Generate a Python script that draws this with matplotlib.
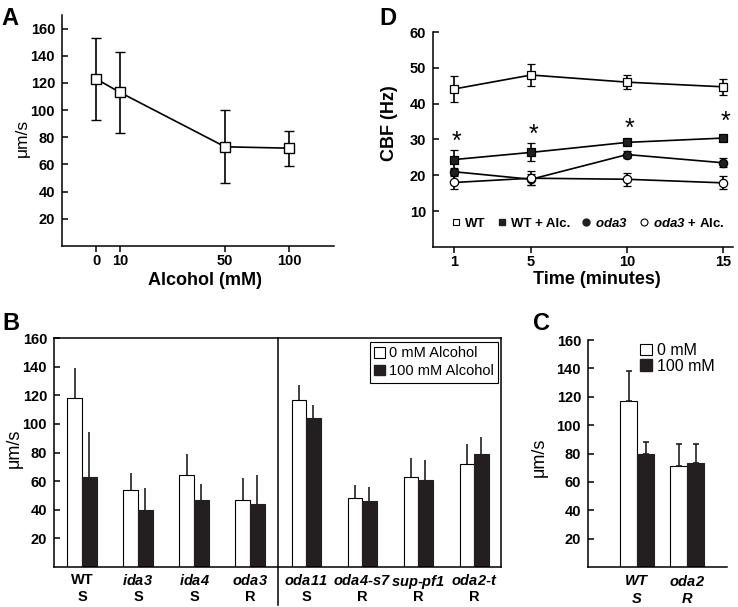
# Four-panel figure: swimming speed vs alcohol (A), CBF over time (D),
# speed of mutant strains (B) and of WT / oda2 (C).

import numpy as np
import matplotlib
matplotlib.use("Agg")
from matplotlib import pyplot as plt
from matplotlib.lines import Line2D
from matplotlib.patches import Patch

plt.rcParams['font.family'] = ['Liberation Sans', 'DejaVu Sans']
plt.rcParams['font.weight'] = 'bold'
# math text is only used for the italic gene names, digits included
plt.rcParams['mathtext.fontset'] = 'custom'
plt.rcParams['mathtext.it'] = 'Liberation Sans:italic:bold'
plt.rcParams['mathtext.rm'] = 'Liberation Sans:italic:bold'
plt.rcParams['mathtext.default'] = 'rm'
plt.rcParams['axes.linewidth'] = 1.1

# Panel A data
conc = [0, 10, 50, 100]
speed_a = [123, 113, 73, 72]
err_a = [30, 30, 27, 13]

# Panel D data
time_min = [1, 5, 10, 15]
cbf_wt = [44.1, 48.0, 46.0, 44.7]
cbf_wt_err = [3.5, 3.1, 2.0, 2.3]
cbf_wt_alc = [24.4, 26.4, 29.2, 30.4]
cbf_wt_alc_err = [2.6, 2.5, 0.6, 0.5]
cbf_oda3 = [21.0, 18.9, 25.8, 23.5]
cbf_oda3_err = [1.0, 1.5, 1.1, 1.3]
cbf_oda3_alc = [18.0, 19.2, 18.9, 17.9]
cbf_oda3_alc_err = [1.9, 1.9, 1.8, 1.8]
star_y = [29.3, 31.3, 32.9, 34.8]

# Panel B data
strains_b = ['WT', 'ida3', 'ida4', 'oda3', 'oda11', 'oda4-s7', 'sup-pf1', 'oda2-t']
class_b = ['S', 'S', 'S', 'R', 'S', 'R', 'R', 'R']
speed_0mm_b = [118, 54, 64, 47, 117, 48, 63, 72]
err_0mm_b = [21, 12, 15, 15, 10, 9, 13, 14]
speed_100mm_b = [63, 40, 47, 44, 104, 46, 61, 79]
err_100mm_b = [31, 15, 11, 20, 9, 10, 14, 12]

# Panel C data
strains_c = ['WT', 'oda2']
class_c = ['S', 'R']
speed_0mm_c = [117, 71]
err_0mm_c = [21, 16]
speed_100mm_c = [80, 73]
err_100mm_c = [8, 14]

dark = '#231f20'


def ital(name):
    """Italic (bold) gene name, keeping hyphens as plain text."""
    return '-'.join(r'$%s$' % p for p in name.split('-'))


fig = plt.figure(figsize=(7.38, 6.07), dpi=100)
W, H = 738., 607.


def add_ax(left, top, right, bottom):
    return fig.add_axes([left/W, 1 - bottom/H, (right - left)/W, (bottom - top)/H])


# ---------------- Panel A ----------------
ax_a = add_ax(62, 15, 334, 246)
# the concentration axis is stretched unevenly in the original
knots_c = [-20, 0, 10, 50, 100, 160]
knots_p = [-48, 0, 24, 129, 193, 270]
ax_a.set_xscale('function', functions=(lambda x: np.interp(x, knots_c, knots_p),
                                       lambda p: np.interp(p, knots_p, knots_c)))
ax_a.errorbar(conc, speed_a, yerr=err_a, color='k', lw=1.2, capsize=3.5,
              capthick=1.2, marker='s', ms=7, mfc='white', mec='k', mew=1.0)
ax_a.set_xlim(-14.2, 135)
ax_a.set_ylim(0, 170)
ax_a.set_xticks(conc)
ax_a.set_yticks(range(20, 161, 20))
ax_a.spines[['top', 'right']].set_visible(False)
ax_a.tick_params(axis='y', direction='in', length=4, width=1.1, labelsize=10.5, pad=5)
ax_a.tick_params(axis='x', direction='out', length=4, width=1.1, labelsize=10.5, pad=2)
ax_a.set_xlabel('Alcohol (mM)', fontsize=13, fontweight='bold')
ax_a.xaxis.set_label_coords(0.526, -0.112)
ax_a.set_ylabel('\u03bcm/s', fontsize=12.5, fontweight='normal')
ax_a.yaxis.set_label_coords(-0.118, 0.468)

# ---------------- Panel D ----------------
ax_d = add_ax(433, 32, 733, 247)
series = [(cbf_wt, cbf_wt_err, 's', 'white'),
          (cbf_wt_alc, cbf_wt_alc_err, 's', dark),
          (cbf_oda3, cbf_oda3_err, 'o', dark),
          (cbf_oda3_alc, cbf_oda3_alc_err, 'o', 'white')]
for vals, errs, mk, fc in series:
    ax_d.errorbar(time_min, vals, yerr=errs, color='k', lw=1.2, capsize=3,
                  capthick=1.0, marker=mk, ms=6, mfc=fc, mec='k', mew=0.9)
for t, y in zip(time_min, star_y):
    ax_d.text(t + 0.1, y, '*', ha='center', va='center', fontsize=18,
              fontweight='normal')
ax_d.set_xlim(-0.1, 15.5)
ax_d.set_ylim(0, 60)
ax_d.set_xticks(time_min)
ax_d.set_yticks(range(10, 61, 10))
ax_d.spines[['top', 'right']].set_visible(False)
ax_d.tick_params(axis='y', direction='in', length=4, width=1.1, labelsize=10.5, pad=5)
ax_d.tick_params(axis='x', direction='out', length=4, width=1.1, labelsize=10.5, pad=2)
ax_d.set_xlabel('Time (minutes)', fontsize=13, fontweight='bold')
ax_d.xaxis.set_label_coords(0.547, -0.112)
ax_d.set_ylabel('CBF (Hz)', fontsize=13, fontweight='bold')
ax_d.yaxis.set_label_coords(-0.115, 0.577)
handles_d = [Line2D([], [], ls='none', marker='s', ms=5, mfc='white', mec='k', mew=0.8),
             Line2D([], [], ls='none', marker='s', ms=5, mfc=dark, mec=dark),
             Line2D([], [], ls='none', marker='o', ms=5, mfc=dark, mec=dark),
             Line2D([], [], ls='none', marker='o', ms=5, mfc='white', mec='k', mew=0.8)]
labels_d = ['WT', 'WT + Alc.', ital('oda3'), ital('oda3') + ' + Alc.']
ax_d.legend(handles_d, labels_d, ncol=4, loc='center', bbox_to_anchor=(0.517, 0.11),
            frameon=False, handlelength=0.7, handletextpad=0.3, columnspacing=0.9,
            prop={'size': 9.5, 'weight': 'bold'})

# ---------------- Panel B ----------------
ax_b = add_ax(54, 338, 501, 567)
xb = np.arange(len(strains_b))
wb = 0.26
ax_b.bar(xb - wb/2, speed_0mm_b, wb, color='white', edgecolor='k', lw=0.8)
ax_b.bar(xb + wb/2, speed_100mm_b, wb, color=dark, edgecolor=dark, lw=0.8)
ax_b.errorbar(xb - wb/2, speed_0mm_b, yerr=[np.zeros(len(xb)), err_0mm_b],
              fmt='none', ecolor=dark, elinewidth=1.2, capsize=0)
ax_b.errorbar(xb + wb/2, speed_100mm_b, yerr=[np.zeros(len(xb)), err_100mm_b],
              fmt='none', ecolor=dark, elinewidth=1.2, capsize=0)
ax_b.plot([3.5, 3.5], [-0.166, 1], color='k', lw=1.1,
          transform=ax_b.get_xaxis_transform(), clip_on=False)
ax_b.set_xlim(-0.5, 7.48)
ax_b.set_ylim(0, 160)
ax_b.set_yticks(range(20, 161, 20))
ax_b.set_xticks(xb)
ax_b.set_xticklabels([s if s == 'WT' else ital(s) for s in strains_b])
for x, c in zip(xb, class_b):
    ax_b.text(x, -0.131, c, ha='center', va='center', fontsize=10.5,
              transform=ax_b.get_xaxis_transform())
ax_b.tick_params(axis='y', direction='in', length=4, width=1.1, labelsize=10.5, pad=5)
ax_b.tick_params(axis='x', length=0, labelsize=10.5, pad=4)
ax_b.set_ylabel('\u03bcm/s', fontsize=13, fontweight='normal')
ax_b.yaxis.set_label_coords(-0.069, 0.52)
handles_b = [Patch(facecolor='white', edgecolor='k', lw=0.8),
             Patch(facecolor=dark, edgecolor=dark)]
leg_b = ax_b.legend(handles_b, ['0 mM Alcohol', '100 mM Alcohol'], loc='upper right',
                    bbox_to_anchor=(0.993, 0.982), fancybox=False, framealpha=1,
                    edgecolor='k', handlelength=0.75, handleheight=0.75,
                    handletextpad=0.25, labelspacing=0.25, borderpad=0.3,
                    borderaxespad=0, prop={'size': 10.5, 'weight': 'normal'})
leg_b.get_frame().set_linewidth(0.8)

# ---------------- Panel C ----------------
ax_c = add_ax(588, 340, 727, 567)
xc = np.arange(len(strains_c))
wc = 0.34
ax_c.bar(xc - wc/2, speed_0mm_c, wc, color='white', edgecolor='k', lw=0.8)
ax_c.bar(xc + wc/2, speed_100mm_c, wc, color=dark, edgecolor=dark, lw=0.8)
ax_c.errorbar(xc - wc/2, speed_0mm_c, yerr=[np.zeros(len(xc)), err_0mm_c],
              fmt='none', ecolor=dark, elinewidth=1.2, capsize=2.5, capthick=1.2)
ax_c.errorbar(xc + wc/2, speed_100mm_c, yerr=[np.zeros(len(xc)), err_100mm_c],
              fmt='none', ecolor=dark, elinewidth=1.2, capsize=2.5, capthick=1.2)
ax_c.set_xlim(-0.98, 1.8)
ax_c.set_ylim(0, 160)
ax_c.set_yticks(range(20, 161, 20))
ax_c.set_xticks(xc)
ax_c.set_xticklabels([ital(s) for s in strains_c])
for x, c in zip(xc, class_c):
    ax_c.text(x, -0.142, ital(c), ha='center', va='center', fontsize=10.5,
              transform=ax_c.get_xaxis_transform())
ax_c.spines[['top', 'right']].set_visible(False)
ax_c.tick_params(axis='y', direction='in', length=4, width=1.1, labelsize=10.5, pad=5)
ax_c.tick_params(axis='x', length=0, labelsize=10.5, pad=5)
ax_c.set_ylabel('\u03bcm/s', fontsize=13, fontweight='normal')
ax_c.yaxis.set_label_coords(-0.29, 0.485)
handles_c = [Patch(facecolor='white', edgecolor='k', lw=0.8),
             Patch(facecolor=dark, edgecolor=dark)]
ax_c.legend(handles_c, ['0 mM', '100 mM'], loc='upper left', bbox_to_anchor=(0.33, 1.015),
            frameon=False, handlelength=0.75, handleheight=0.75, handletextpad=0.3,
            labelspacing=0.05, borderaxespad=0, prop={'size': 11.5, 'weight': 'normal'})

# Panel letters
for letter, x, y in [('A', 1, 25), ('D', 379, 25), ('B', 2, 330), ('C', 533, 330)]:
    fig.text(x/W, 1 - y/H, letter, fontsize=17, fontweight='bold', va='baseline')

fig.savefig('out.png', dpi=100)
